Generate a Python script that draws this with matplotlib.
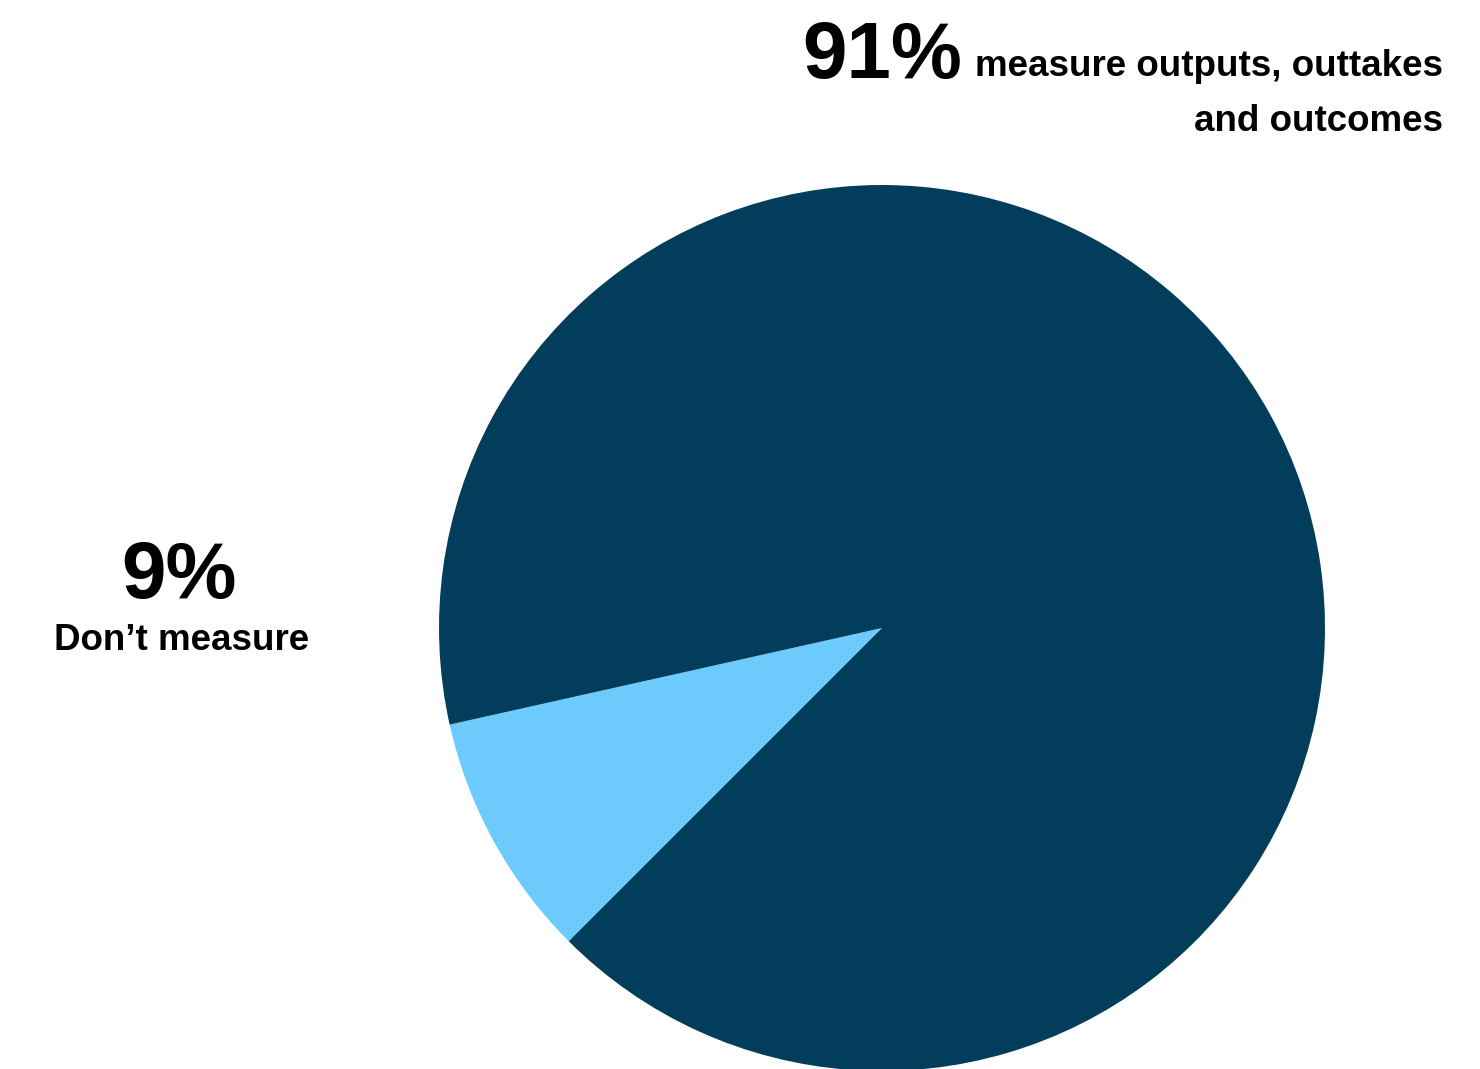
import matplotlib
matplotlib.use("Agg")
import matplotlib.pyplot as plt

# share of respondents
labels = ["Don\u2019t measure", "measure outputs, outtakes\nand outcomes"]
shares = [9, 91]
colors = ["#6CCBFC", "#033D5C"]

plt.rcParams["font.family"] = ["Liberation Sans", "DejaVu Sans"]

fig = plt.figure(figsize=(14.8, 10.69), dpi=100)
W, H = 1480, 1069

# pie centred at (882, 628) px with radius 443 px
cx, cy, r = 882, 628, 443
ax = fig.add_axes([(cx - r) / W, (H - cy - r) / H, 2 * r / W, 2 * r / H])
ax.pie(shares, colors=colors, startangle=192.6, counterclock=True,
       wedgeprops=dict(linewidth=0))
ax.set_xlim(-1, 1)
ax.set_ylim(-1, 1)
ax.set_aspect("equal")
ax.axis("off")


def px(x, y):
    return x / W, 1 - y / H


# big-share label
fig.text(*px(962, 78), f"{shares[1]}%", fontsize=57.5, fontweight="bold",
         ha="right", va="baseline")
line1, line2 = labels[1].split("\n")
fig.text(*px(1443, 76), line1, fontsize=26.5, fontweight="bold",
         ha="right", va="baseline")
fig.text(*px(1443, 131), line2, fontsize=26.5, fontweight="bold",
         ha="right", va="baseline")

# small-share label
fig.text(*px(179, 598), f"{shares[0]}%", fontsize=57.5, fontweight="bold",
         ha="center", va="baseline")
fig.text(*px(182, 650), labels[0], fontsize=26.5, fontweight="bold",
         ha="center", va="baseline")

fig.savefig("out.png", dpi=100, facecolor="white")
